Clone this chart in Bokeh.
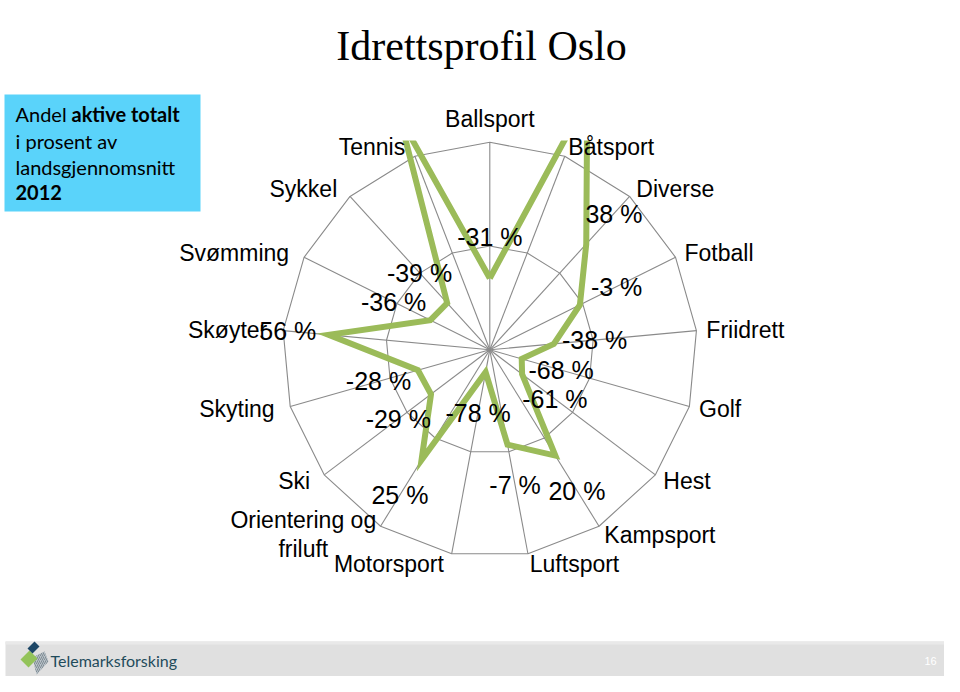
import numpy as np
from bokeh.plotting import figure
from bokeh.models import Range1d, ColumnDataSource
from bokeh.embed import file_html
from bokeh.resources import INLINE
from bokeh.core.properties import value

# ---------------- data ----------------
categories = ["Ballsport", "Båtsport", "Diverse", "Fotball", "Friidrett", "Golf",
              "Hest", "Kampsport", "Luftsport", "Motorsport", "Orientering og friluft",
              "Ski", "Skyting", "Skøyter", "Svømming", "Sykkel", "Tennis"]
values = [-31, 160, 38, -3, -38, -68, -61, 20, -7, -78, 25, -29, -28, 56, -36, -39, 140]
axis_min, axis_max = -100, 100
ring_values = [0, 100]
title_text = "Idrettsprofil Oslo"
box_lines = [("Andel ", "normal"), ("aktive totalt", "bold"), ("i prosent av", "normal"),
             ("landsgjennomsnitt", "normal"), ("2012", "bold")]
footer_text = "Telemarksforsking"
page_number = "16"

# ---------------- figure ----------------
W, H = 944, 676
p = figure(width=W, height=H, x_range=Range1d(0, W), y_range=Range1d(H, 0),
           output_backend="svg", toolbar_location=None, min_border=0,
           x_axis_location=None, y_axis_location=None)
p.grid.visible = False
p.outline_line_color = None
p.background_fill_color = "white"
p.border_fill_color = "white"

SANS = value("Liberation Sans")
CX, CY, R = 489.3, 349.3, 207.5
n = len(categories)
theta = np.arange(n) * 2 * np.pi / n
s, c = np.sin(theta), np.cos(theta)


def radius(v):
    return (np.asarray(v, dtype=float) - axis_min) / (axis_max - axis_min) * R


GRID = "#8a8a8a"
# rings
for rv in ring_values:
    r = radius(rv)
    xs = list(CX + r * s) + [CX + r * s[0]]
    ys = list(CY - r * c) + [CY - r * c[0]]
    p.line(xs, ys, line_color=GRID, line_width=1.1)
# spokes
rmax = radius(axis_max)
p.multi_line(xs=[[CX, CX + rmax * s[i]] for i in range(n)],
             ys=[[CY, CY - rmax * c[i]] for i in range(n)],
             line_color=GRID, line_width=1.1)

# series
rv = radius(values)
sx = CX + rv * s
sy = CY - rv * c
p.line(list(sx) + [sx[0]], list(sy) + [sy[0]], line_color="#9bbb59", line_width=6,
       line_join="miter")

# data labels
lr = rv + 41
dl = ColumnDataSource(dict(x=CX + lr * s, y=CY - lr * c,
                           t=[f"{v} %" for v in values]))
p.text(x="x", y="y", text="t", source=dl, text_align="center", text_baseline="middle",
       text_font=SANS, text_font_size="25px", text_color="black")

# plot-area clip (values beyond the axis are cut at the top of the plot area)
p.quad(left=300, right=700, top=0, bottom=140, fill_color="white", line_color=None)

# category labels
cr = R + 10
groups = {"left": dict(x=[], y=[], t=[]), "right": dict(x=[], y=[], t=[])}
for i, name in enumerate(categories):
    x = CX + cr * s[i]
    y = CY - cr * c[i]
    if abs(s[i]) < 1e-6:
        p.text(x=[x], y=[y], text=[name], text_align="center", text_baseline="bottom",
               text_font=SANS, text_font_size="23px", text_color="black")
        continue
    if " og " in name:
        txt = name.replace(" og ", " og\n")
        p.text(x=[x + 1 - 73], y=[y], text=[txt], text_align="center",
               text_baseline="middle", text_font=SANS, text_font_size="23px",
               text_color="black", text_line_height=1.12)
        continue
    side = "left" if s[i] > 0 else "right"
    g = groups[side]
    g["x"].append(x if side == "left" else x - 6)
    g["y"].append(y)
    g["t"].append(name)
for side in ("left", "right"):
    p.text(x="x", y="y", text="t", source=ColumnDataSource(groups[side]),
           text_align=side, text_baseline="middle", text_font=SANS,
           text_font_size="23px", text_color="black")

# title
p.text(x=[481], y=[45], text=[title_text], text_align="center", text_baseline="middle",
       text_font=value("Liberation Serif"), text_font_size="42px", text_color="black")

# info box
p.quad(left=4, right=200, top=94, bottom=211, fill_color="#5ad3fa", line_color=None)
BOXF = value("Lato")
box_pos = [(15, 113), (71, 113), (15, 140), (15, 166), (15, 192)]
for (txt, wt), (bx, by) in zip(box_lines, box_pos):
    p.text(x=[bx], y=[by], text=[txt], text_align="left", text_baseline="middle",
           text_font=BOXF, text_font_size="20px", text_font_style=wt, text_color="black")

# footer (fitted into the visible page height)
FY = 660  # footer text centre line
p.quad(left=5, right=955, top=FY - 19, bottom=700, fill_color="#e0e0e0", line_color=None)
p.quad(left=5, right=955, top=FY - 19, bottom=FY - 16, fill_color="#e9e9e9", line_color=None)
p.patch([32, 44, 48, 36], [FY - 3, FY - 9, FY + 1, FY + 14], fill_color="#b9c2c8",
        line_color=None, hatch_pattern="/", hatch_color="#7f8c94", hatch_scale=4)
p.patch([20, 29, 37, 28], [FY - 1, FY - 10, FY - 2, FY + 7], fill_color="#93c35a",
        line_color=None)
p.patch([27, 34, 39, 32], [FY - 12, FY - 19, FY - 14, FY - 7], fill_color="#1d4766",
        line_color=None)
p.text(x=[50], y=[FY], text=[footer_text], text_align="left", text_baseline="middle",
       text_font=value("Lato"), text_font_size="16px", text_color="#1f4b5b")
p.text(x=[930], y=[FY], text=[page_number], text_align="center", text_baseline="middle",
       text_font=SANS, text_font_size="11px", text_color="white")

open("out.html", "w").write(file_html(p, INLINE))
